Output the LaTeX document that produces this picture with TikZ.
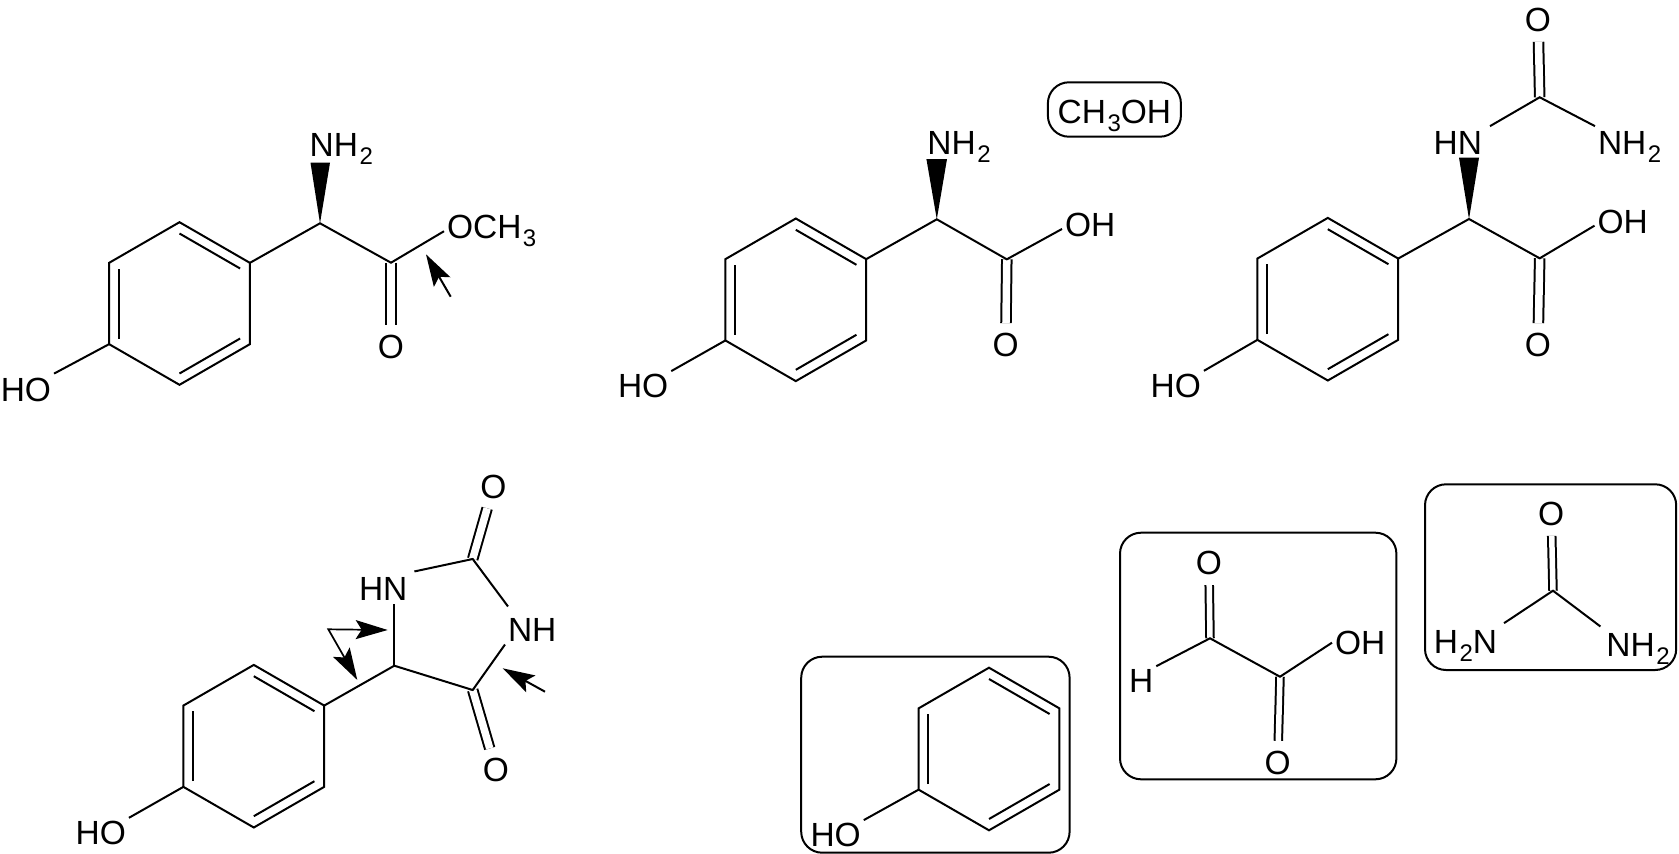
\documentclass[tikz,border=0pt]{standalone}
\usepackage{fontspec}
\setmainfont{Liberation Sans}
\usetikzlibrary{arrows.meta}

\newcommand{\subnum}[1]{\kern1.5pt\raisebox{-8pt}{\fontsize{24}{24}\selectfont #1}}
\tikzset{
    atom/.style={inner sep=2pt,font=\fontsize{33.5}{33.5}\selectfont},
    label/.style={atom,anchor=base west},
    dbl/.style={double,double distance=#1,shorten >=7pt},
    dbl/.default=7.5pt,
    barb/.tip={Stealth[length=32pt,width=19pt,inset=6pt]},
    hit/.style={-barb},
    tag/.style={rounded corners=21pt},
    phenyl/.pic={
        \foreach \a in {30,90,...,330}
            \coordinate (-v\a) at (\a:81.3);
        \draw (-v30) -- (-v90) -- (-v150) -- (-v210) -- (-v270) -- (-v330) -- cycle;
        \draw (270:70) -- (330:70);
        \draw (90:70) -- (30:70);
        \draw (150:70) -- (210:70);
    }
}

\begin{document}
\begin{tikzpicture}[x=1pt,y=-1pt,line width=2pt]
    \useasboundingbox (0,0) rectangle (1679,854);

    % methyl ester
    \pic (a) at (179.5,303.5) {phenyl};
    \coordinate (a1) at (320,223.3);
    \coordinate (a2) at (391,262.7);
    \node[label] (n1) at (306.7,156.5) {NH\subnum{2}};
    \node[label] (och) at (444,238.8) {OCH\subnum{3}};
    \node[atom] (o1) at (391,347.3) {O};
    \node[label] (ho1) at (-2.2,401.5) {HO};
    \coordinate (t1) at (450.7,296.7);
    \coordinate (p1) at (426,254.3);
    \draw[dbl] (a2) -- (o1);
    \draw ([yshift=1.5pt]ho1.north east) -- (a-v150);
    \draw (a-v330) -- (a1) -- (a2) -- (och.west);
    \fill (a1) -- +(-9.5,-60.6) -- +(10,-60.6) -- cycle;
    \draw[hit] (t1) -- (p1);

    % free acid
    \pic (b) at (795.8,299.8) {phenyl};
    \coordinate (b1) at (936.8,219.3);
    \coordinate (b2) at (1006.8,259.3);
    \node[label] (n2) at (924.4,154.8) {NH\subnum{2}};
    \node[label] (oh2) at (1062,236.5) {OH};
    \node[atom] (o2) at (1005.7,345) {O};
    \node[label] (ho2) at (615,397.5) {HO};
    \draw[dbl] (b2) -- (o2);
    \draw (ho2.north east) -- (b-v150);
    \draw (b-v330) -- (b1) -- (b2) -- ([yshift=-4pt]oh2.west);
    \fill (b1) -- +(-10.4,-60.3) -- +(10.2,-60.3) -- cycle;
    \node[atom,draw,tag,minimum width=133pt,minimum height=54.4pt,text height=27.4pt,text depth=0pt] (meoh) at (1114.4,109.5) {CH\subnum{3}OH};

    % carbamoyl acid
    \pic (c) at (1327.8,299.2) {phenyl};
    \coordinate (c1) at (1469,219);
    \coordinate (c2) at (1539.7,258.3);
    \coordinate (c3) at (1539.7,97.3);
    \node[label] (hn3) at (1430.6,154.2) {HN};
    \node[label] (n3) at (1595,154.2) {NH\subnum{2}};
    \node[label] (oh3) at (1594.5,233.2) {OH};
    \node[atom] (o3) at (1538,345) {O};
    \node[atom] (o4) at (1538,20) {O};
    \node[label] (ho3) at (1147.7,397.2) {HO};
    \draw[dbl] (c2) -- (o3);
    \draw[dbl] (c3) -- (o4);
    \draw (ho3.north east) -- (c-v150);
    \draw (c-v330) -- (c1) -- (c2) -- ([yshift=-4pt]oh3.west);
    \draw ([xshift=5pt,yshift=2pt]hn3.north east) -- (c3) -- ([yshift=2pt]n3.north west);
    \fill (c1) -- +(-10,-61.3) -- +(10,-61.3) -- cycle;

    % hydantoin
    \pic (d) at (253.8,746.2) {phenyl};
    \coordinate (d5) at (394.3,665.7);
    \coordinate (d2) at (472.7,559);
    \coordinate (d4) at (472.7,690);
    \node[label] (hn4) at (356,600.5) {HN};
    \node[label] (nh4) at (505,641.5) {NH};
    \node[atom] (o5) at (493.3,486.7) {O};
    \node[atom] (o6) at (496,770) {O};
    \node[label] (ho4) at (72.7,844.2) {HO};
    \draw[dbl] (d2) -- (o5);
    \draw[dbl] (d4) -- (o6);
    \draw (ho4.north east) -- (d-v150);
    \draw (d-v330) -- (d5) -- (d4) -- (nh4.south west);
    \draw (d5) -- (d5 |- hn4.south);
    \draw ([xshift=4pt,yshift=3pt]hn4.north east) -- (d2) -- ([xshift=3pt,yshift=9pt]nh4.north west);
    \coordinate (v1) at (328.3,629.3);
    \coordinate (p2) at (387.7,630);
    \coordinate (p3) at (357.3,680);
    \draw[barb-barb,line join=miter,line width=1.7pt] (p2) -- (v1) -- (p3);
    \coordinate (t4) at (545,691.7);
    \coordinate (p4) at (502.7,668.3);
    \draw[hit] (t4) -- (p4);

    % phenol
    \draw[tag] (801.2,656.7) rectangle (1069.6,852.7);
    \pic (e) at (989,749) {phenyl};
    \node[label] (ho5) at (807.5,846.5) {HO};
    \draw (ho5.north east) -- (e-v150);

    % glyoxylic acid
    \draw[tag] (1120,532.7) rectangle (1396.4,779.3);
    \coordinate (f1) at (1210,638.3);
    \coordinate (f2) at (1280,676.7);
    \node[atom] (o7) at (1208.9,563.3) {O};
    \node[atom] (h1) at (1141.2,680.7) {H};
    \node[label] (oh6) at (1332,654.2) {OH};
    \node[atom] (o8) at (1277.7,762.7) {O};
    \draw[dbl=5.5pt] (f1) -- (o7);
    \draw[dbl=5.5pt] (f2) -- (o8);
    \draw (h1.north east) -- (f1) -- (f2) -- (oh6.west);

    % urea
    \draw[tag] (1425,484.3) rectangle (1676.2,670);
    \coordinate (g1) at (1553,590.7);
    \node[atom] (o9) at (1551.2,514) {O};
    \node[label] (n6) at (1430.8,653.2) {H\subnum{2}N};
    \node[label] (n7) at (1603.4,656.5) {NH\subnum{2}};
    \draw[dbl=5.5pt] (g1) -- (o9);
    \draw ([xshift=4pt,yshift=4pt]n6.north east) -- (g1) -- ([xshift=-3pt,yshift=4pt]n7.north west);
\end{tikzpicture}
\end{document}
